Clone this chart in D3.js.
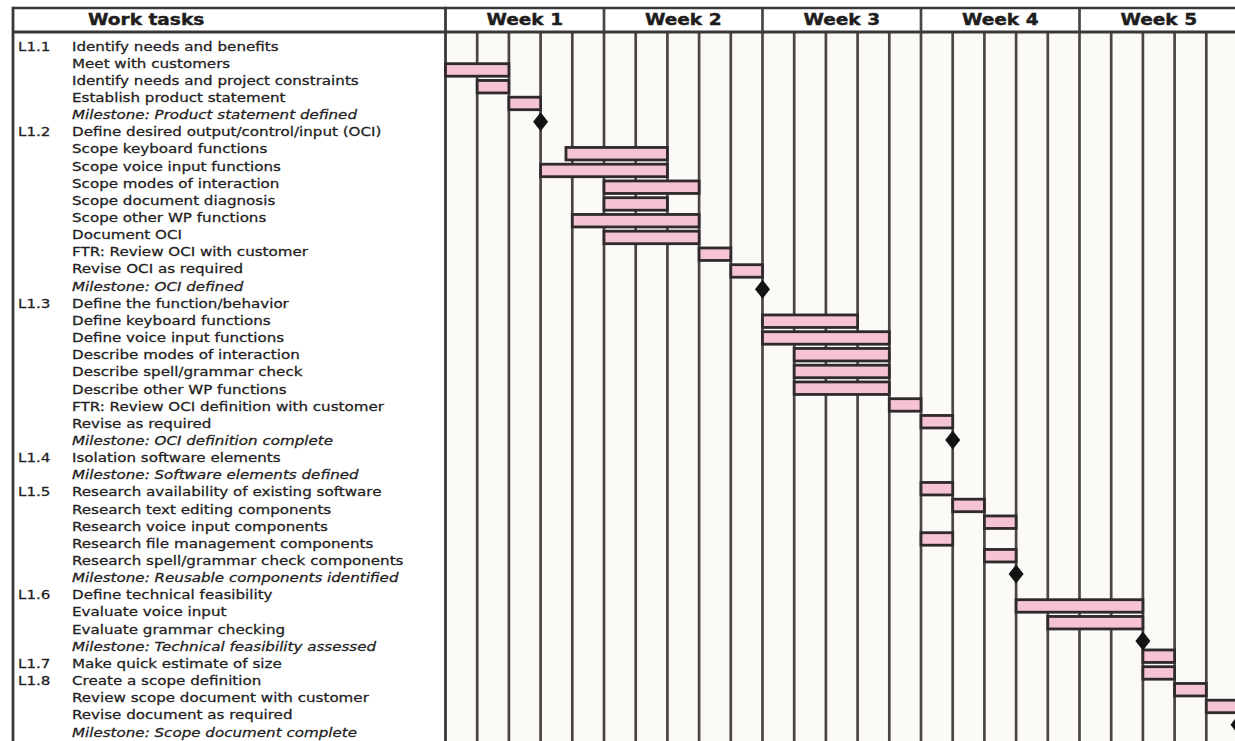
<!DOCTYPE html>
<html>
<head>
<meta charset="utf-8">
<script src="https://cdn.jsdelivr.net/npm/d3@7"></script>
<style>
  html, body { margin: 0; padding: 0; background: #ffffff; }
  svg { display: block; }
</style>
</head>
<body>
<svg id="chart" width="1235" height="741"></svg>
<script>
// ---------------- data ----------------
const weekLabels = ["Week 1", "Week 2", "Week 3", "Week 4", "Week 5"];
const daysPerWeek = 5;

const taskCodes = [
  "L1.1", "", "", "", "",
  "L1.2", "", "", "", "", "", "", "", "", "",
  "L1.3", "", "", "", "", "", "", "", "",
  "L1.4", "",
  "L1.5", "", "", "", "", "",
  "L1.6", "", "", "",
  "L1.7",
  "L1.8", "", "", ""
];

const taskNames = [
  "Identify needs and benefits",
  "Meet with customers",
  "Identify needs and project constraints",
  "Establish product statement",
  "Milestone: Product statement defined",
  "Define desired output/control/input (OCI)",
  "Scope keyboard functions",
  "Scope voice input functions",
  "Scope modes of interaction",
  "Scope document diagnosis",
  "Scope other WP functions",
  "Document OCI",
  "FTR: Review OCI with customer",
  "Revise OCI as required",
  "Milestone: OCI defined",
  "Define the function/behavior",
  "Define keyboard functions",
  "Define voice input functions",
  "Describe modes of interaction",
  "Describe spell/grammar check",
  "Describe other WP functions",
  "FTR: Review OCI definition with customer",
  "Revise as required",
  "Milestone: OCI definition complete",
  "Isolation software elements",
  "Milestone: Software elements defined",
  "Research availability of existing software",
  "Research text editing components",
  "Research voice input components",
  "Research file management components",
  "Research spell/grammar check components",
  "Milestone: Reusable components identified",
  "Define technical feasibility",
  "Evaluate voice input",
  "Evaluate grammar checking",
  "Milestone: Technical feasibility assessed",
  "Make quick estimate of size",
  "Create a scope definition",
  "Review scope document with customer",
  "Revise document as required",
  "Milestone: Scope document complete"
];

// "S" summary, "T" task, "M" milestone
const taskKinds = [
  "S","T","T","T","M",
  "S","T","T","T","T","T","T","T","T","M",
  "S","T","T","T","T","T","T","T","M",
  "S","M",
  "S","T","T","T","T","M",
  "S","T","T","M",
  "S",
  "S","T","T","M"
];

// start / end in working days from the start of week 1 (null = no mark)
const taskStart = [
  null, 0, 1, 2, 3,
  null, 3.8, 3, 5, 5, 4, 5, 8, 9, 10,
  null, 10, 10, 11, 11, 11, 14, 15, 16,
  null, null,
  15, 16, 17, 15, 17, 18,
  null, 18, 19, 22,
  22,
  22, 23, 24, 25
];
const taskEnd = [
  null, 2, 2, 3, null,
  null, 7, 7, 8, 7, 8, 8, 9, 10, null,
  null, 13, 14, 14, 14, 14, 15, 16, null,
  null, null,
  16, 17, 18, 16, 18, null,
  null, 22, 22, null,
  23,
  23, 24, 25, null
];

// ---------------- drawing ----------------
const svg = d3.select("#chart");
const W = 1235, H = 741;
const n = taskNames.length;
const totalDays = weekLabels.length * daysPerWeek;

const leftX = 13, colX = 445.5, topY = 8, headY = 32;
const x = d3.scaleLinear().domain([0, totalDays]).range([colX, 1238]);
const yText = d3.scaleLinear().domain([0, n - 1]).range([46, 732]);
const yBar = d3.scaleLinear().domain([0, n - 1]).range([53.2, 723.2]);

const lineColor = "#4a4646";
const textColor = "#222020";
const font = "'DejaVu Sans', sans-serif";

// backgrounds
svg.append("rect").attr("x", 0).attr("y", 0).attr("width", W).attr("height", H).attr("fill", "#ffffff");
svg.append("rect").attr("x", colX).attr("y", headY).attr("width", W - colX).attr("height", H - headY)
  .attr("fill", "#fcfaf6");

// day grid lines
const days = d3.range(1, totalDays + 1);
svg.append("g").selectAll("line").data(days).join("line")
  .attr("x1", d => x(d)).attr("x2", d => x(d))
  .attr("y1", d => d % daysPerWeek === 0 ? topY : headY)
  .attr("y2", H)
  .attr("stroke", lineColor)
  .attr("stroke-width", 2.7);

// frame lines
svg.append("line").attr("x1", leftX).attr("x2", W).attr("y1", topY).attr("y2", topY)
  .attr("stroke", "#3a3838").attr("stroke-width", 2.6);
svg.append("line").attr("x1", leftX).attr("x2", W).attr("y1", headY).attr("y2", headY)
  .attr("stroke", "#3a3838").attr("stroke-width", 2.8);
svg.append("line").attr("x1", leftX).attr("x2", leftX).attr("y1", topY - 1.3).attr("y2", H)
  .attr("stroke", "#3a3838").attr("stroke-width", 2.8);
svg.append("line").attr("x1", colX).attr("x2", colX).attr("y1", topY - 1.3).attr("y2", H)
  .attr("stroke", "#3a3838").attr("stroke-width", 2.8);

// header texts
svg.append("text")
  .attr("transform", `translate(88,${headY - 7}) scale(1.16,1)`)
  .attr("font-family", font).attr("font-weight", "bold").attr("font-size", 16)
  .attr("fill", "#1e1c1c").attr("stroke", "#1e1c1c").attr("stroke-width", 0.4)
  .text("Work tasks");

svg.append("g").selectAll("text").data(weekLabels).join("text")
  .attr("transform", (d, i) => `translate(${x((i + 0.5) * daysPerWeek)},${headY - 7}) scale(1.16,1)`)
  .attr("text-anchor", "middle")
  .attr("font-family", font).attr("font-weight", "bold").attr("font-size", 16)
  .attr("fill", "#1e1c1c").attr("stroke", "#1e1c1c").attr("stroke-width", 0.4)
  .text(d => d);

// task labels
const rows = d3.range(n);
const labels = svg.append("g")
  .attr("font-family", font).attr("font-size", 12.5)
  .attr("fill", textColor).attr("stroke", textColor).attr("stroke-width", 0.25);
labels.selectAll("text.code").data(rows.filter(i => taskCodes[i])).join("text")
  .attr("class", "code")
  .attr("transform", i => `translate(18,${yText(i) + 4.5}) scale(1.21,1)`)
  .text(i => taskCodes[i]);
labels.selectAll("text.name").data(rows).join("text")
  .attr("class", "name")
  .attr("transform", i => `translate(72,${yText(i) + 4.5}) scale(1.21,1)`)
  .attr("font-style", i => taskKinds[i] === "M" ? "italic" : "normal")
  .text(i => taskNames[i]);

// bars
const barRows = rows.filter(i => taskKinds[i] !== "M" && taskStart[i] !== null && taskEnd[i] !== null);
const barH = 12.5;
svg.append("g").selectAll("rect").data(barRows).join("rect")
  .attr("x", i => x(taskStart[i]))
  .attr("y", i => yBar(i) - barH / 2)
  .attr("width", i => x(taskEnd[i]) - x(taskStart[i]))
  .attr("height", barH)
  .attr("fill", "#f5c3d1")
  .attr("stroke", "#2f2a2c")
  .attr("stroke-width", 2.8);

// milestones
const msRows = rows.filter(i => taskKinds[i] === "M" && taskStart[i] !== null);
svg.append("g").selectAll("path").data(msRows).join("path")
  .attr("transform", i => `translate(${x(taskStart[i])},${yBar(i) + 1.5})`)
  .attr("d", "M0,-9.5L7.5,0L0,9.5L-7.5,0Z")
  .attr("fill", "#141212");
</script>
</body>
</html>
